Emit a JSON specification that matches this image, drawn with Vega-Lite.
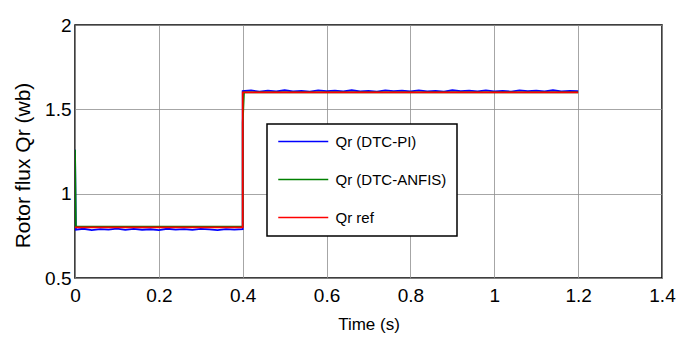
{
  "$schema": "https://vega.github.io/schema/vega-lite/v6.json",
  "width": 587,
  "height": 253,
  "autosize": {"type": "none"},
  "padding": {"left": 75, "top": 25, "right": 16, "bottom": 62},
  "background": "white",
  "config": {
    "view": {"stroke": "black", "strokeWidth": 1.5},
    "axis": {
      "labelFont": "Liberation Sans",
      "labelFontSize": 19,
      "labelColor": "black",
      "titleColor": "black",
      "titleFontWeight": "normal",
      "ticks": false,
      "domain": false,
      "gridColor": "#8f8f8f",
      "gridWidth": 0.8
    },
    "legend": {
      "labelFont": "Liberation Sans",
      "labelFontSize": 15,
      "labelColor": "black"
    }
  },
  "datasets": {
    "pts": [
      {"s": "Qr (DTC-PI)", "i": 0, "t": 0, "v": 1.26},
      {"s": "Qr (DTC-PI)", "i": 1, "t": 0.002, "v": 0.786},
      {"s": "Qr (DTC-PI)", "i": 2, "t": 0.02, "v": 0.792},
      {"s": "Qr (DTC-PI)", "i": 3, "t": 0.04, "v": 0.784},
      {"s": "Qr (DTC-PI)", "i": 4, "t": 0.06, "v": 0.79},
      {"s": "Qr (DTC-PI)", "i": 5, "t": 0.08, "v": 0.787},
      {"s": "Qr (DTC-PI)", "i": 6, "t": 0.10, "v": 0.793},
      {"s": "Qr (DTC-PI)", "i": 7, "t": 0.12, "v": 0.785},
      {"s": "Qr (DTC-PI)", "i": 8, "t": 0.14, "v": 0.791},
      {"s": "Qr (DTC-PI)", "i": 9, "t": 0.16, "v": 0.786},
      {"s": "Qr (DTC-PI)", "i": 10, "t": 0.18, "v": 0.789},
      {"s": "Qr (DTC-PI)", "i": 11, "t": 0.20, "v": 0.784},
      {"s": "Qr (DTC-PI)", "i": 12, "t": 0.22, "v": 0.792},
      {"s": "Qr (DTC-PI)", "i": 13, "t": 0.24, "v": 0.787},
      {"s": "Qr (DTC-PI)", "i": 14, "t": 0.26, "v": 0.79},
      {"s": "Qr (DTC-PI)", "i": 15, "t": 0.28, "v": 0.785},
      {"s": "Qr (DTC-PI)", "i": 16, "t": 0.30, "v": 0.791},
      {"s": "Qr (DTC-PI)", "i": 17, "t": 0.32, "v": 0.788},
      {"s": "Qr (DTC-PI)", "i": 18, "t": 0.34, "v": 0.784},
      {"s": "Qr (DTC-PI)", "i": 19, "t": 0.36, "v": 0.79},
      {"s": "Qr (DTC-PI)", "i": 20, "t": 0.38, "v": 0.787},
      {"s": "Qr (DTC-PI)", "i": 21, "t": 0.40, "v": 0.789},
      {"s": "Qr (DTC-PI)", "i": 22, "t": 0.40, "v": 1.608},
      {"s": "Qr (DTC-PI)", "i": 23, "t": 0.42, "v": 1.612},
      {"s": "Qr (DTC-PI)", "i": 24, "t": 0.44, "v": 1.605},
      {"s": "Qr (DTC-PI)", "i": 25, "t": 0.46, "v": 1.611},
      {"s": "Qr (DTC-PI)", "i": 26, "t": 0.48, "v": 1.607},
      {"s": "Qr (DTC-PI)", "i": 27, "t": 0.50, "v": 1.613},
      {"s": "Qr (DTC-PI)", "i": 28, "t": 0.52, "v": 1.606},
      {"s": "Qr (DTC-PI)", "i": 29, "t": 0.54, "v": 1.61},
      {"s": "Qr (DTC-PI)", "i": 30, "t": 0.56, "v": 1.605},
      {"s": "Qr (DTC-PI)", "i": 31, "t": 0.58, "v": 1.612},
      {"s": "Qr (DTC-PI)", "i": 32, "t": 0.60, "v": 1.608},
      {"s": "Qr (DTC-PI)", "i": 33, "t": 0.62, "v": 1.611},
      {"s": "Qr (DTC-PI)", "i": 34, "t": 0.64, "v": 1.606},
      {"s": "Qr (DTC-PI)", "i": 35, "t": 0.66, "v": 1.613},
      {"s": "Qr (DTC-PI)", "i": 36, "t": 0.68, "v": 1.607},
      {"s": "Qr (DTC-PI)", "i": 37, "t": 0.70, "v": 1.61},
      {"s": "Qr (DTC-PI)", "i": 38, "t": 0.72, "v": 1.605},
      {"s": "Qr (DTC-PI)", "i": 39, "t": 0.74, "v": 1.612},
      {"s": "Qr (DTC-PI)", "i": 40, "t": 0.76, "v": 1.608},
      {"s": "Qr (DTC-PI)", "i": 41, "t": 0.78, "v": 1.611},
      {"s": "Qr (DTC-PI)", "i": 42, "t": 0.80, "v": 1.606},
      {"s": "Qr (DTC-PI)", "i": 43, "t": 0.82, "v": 1.612},
      {"s": "Qr (DTC-PI)", "i": 44, "t": 0.84, "v": 1.607},
      {"s": "Qr (DTC-PI)", "i": 45, "t": 0.86, "v": 1.61},
      {"s": "Qr (DTC-PI)", "i": 46, "t": 0.88, "v": 1.605},
      {"s": "Qr (DTC-PI)", "i": 47, "t": 0.90, "v": 1.613},
      {"s": "Qr (DTC-PI)", "i": 48, "t": 0.92, "v": 1.608},
      {"s": "Qr (DTC-PI)", "i": 49, "t": 0.94, "v": 1.611},
      {"s": "Qr (DTC-PI)", "i": 50, "t": 0.96, "v": 1.606},
      {"s": "Qr (DTC-PI)", "i": 51, "t": 0.98, "v": 1.612},
      {"s": "Qr (DTC-PI)", "i": 52, "t": 1.00, "v": 1.607},
      {"s": "Qr (DTC-PI)", "i": 53, "t": 1.02, "v": 1.61},
      {"s": "Qr (DTC-PI)", "i": 54, "t": 1.04, "v": 1.605},
      {"s": "Qr (DTC-PI)", "i": 55, "t": 1.06, "v": 1.612},
      {"s": "Qr (DTC-PI)", "i": 56, "t": 1.08, "v": 1.608},
      {"s": "Qr (DTC-PI)", "i": 57, "t": 1.10, "v": 1.611},
      {"s": "Qr (DTC-PI)", "i": 58, "t": 1.12, "v": 1.606},
      {"s": "Qr (DTC-PI)", "i": 59, "t": 1.14, "v": 1.613},
      {"s": "Qr (DTC-PI)", "i": 60, "t": 1.16, "v": 1.607},
      {"s": "Qr (DTC-PI)", "i": 61, "t": 1.18, "v": 1.61},
      {"s": "Qr (DTC-PI)", "i": 62, "t": 1.20, "v": 1.608},
      {"s": "Qr (DTC-ANFIS)", "i": 0, "t": 0, "v": 1.26},
      {"s": "Qr (DTC-ANFIS)", "i": 1, "t": 0.002, "v": 0.805},
      {"s": "Qr (DTC-ANFIS)", "i": 2, "t": 0.40, "v": 0.805},
      {"s": "Qr (DTC-ANFIS)", "i": 3, "t": 0.40, "v": 1.42},
      {"s": "Qr (DTC-ANFIS)", "i": 4, "t": 0.403, "v": 1.6},
      {"s": "Qr (DTC-ANFIS)", "i": 5, "t": 1.20, "v": 1.6},
      {"s": "Qr ref", "i": 0, "t": 0, "v": 0.8},
      {"s": "Qr ref", "i": 1, "t": 0.40, "v": 0.8},
      {"s": "Qr ref", "i": 2, "t": 0.40, "v": 1.6},
      {"s": "Qr ref", "i": 3, "t": 1.20, "v": 1.6}
    ]
  },
  "data": {"name": "pts"},
  "mark": {"type": "line", "strokeWidth": 1.8, "clip": true},
  "encoding": {
    "x": {
      "field": "t", "type": "quantitative",
      "scale": {"domain": [0, 1.4], "nice": false},
      "axis": {"values": [0, 0.2, 0.4, 0.6, 0.8, 1, 1.2, 1.4], "format": "~g", "title": "Time (s)",
               "titleFont": "Liberation Sans", "titleFontSize": 17, "titlePadding": 11, "labelPadding": 8, "labelFlush": false}
    },
    "y": {
      "field": "v", "type": "quantitative",
      "scale": {"domain": [0.5, 2], "nice": false},
      "axis": {"values": [0.5, 1, 1.5, 2], "format": "~g", "title": "Rotor flux Qr (wb)",
               "titleFont": "Liberation Sans", "titleFontSize": 21, "titlePadding": 11, "titleY": 140, "titleAlign": "center",
               "labelPadding": 4, "labelFlush": false}
    },
    "color": {
      "field": "s", "type": "nominal",
      "scale": {"domain": ["Qr (DTC-PI)", "Qr (DTC-ANFIS)", "Qr ref"], "range": ["#0000ff", "#008000", "#ff0000"]},
      "legend": {
        "title": null,
        "orient": "none",
        "legendX": 192,
        "legendY": 99,
        "strokeColor": "black",
        "fillColor": "white",
        "padding": 10,
        "symbolType": "M-1,0H7",
        "symbolSize": 156.25,
        "symbolStrokeWidth": 1.5,
        "labelOffset": 43.5,
        "rowPadding": 22,
        "encode": {"legend": {"update": {"strokeWidth": {"value": 1.5}}}}
      }
    },
    "order": {"field": "i", "type": "quantitative"}
  }
}
